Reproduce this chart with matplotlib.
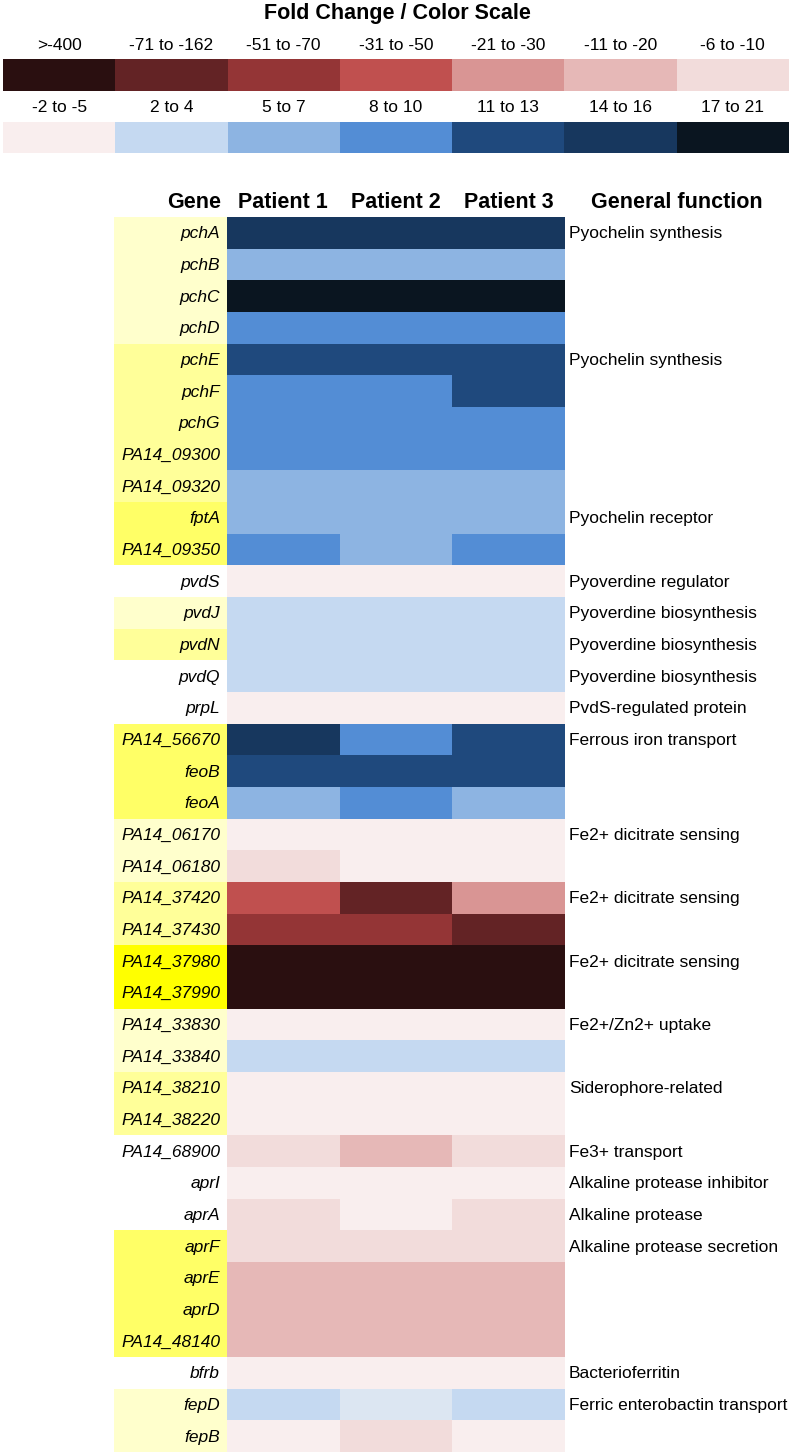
import numpy as np
import matplotlib
matplotlib.use("Agg")
import matplotlib.pyplot as plt
from matplotlib.colors import ListedColormap, BoundaryNorm

plt.rcParams['font.family'] = ['Liberation Sans', 'DejaVu Sans']

# ---------------- data ----------------
scale_labels = [">-400", "-71 to -162", "-51 to -70", "-31 to -50", "-21 to -30",
                "-11 to -20", "-6 to -10", "-2 to -5", "2 to 4", "5 to 7",
                "8 to 10", "11 to 13", "14 to 16", "17 to 21"]
scale_colors = ["#2A0F10", "#632325", "#943536", "#C0504F", "#D99594",
                "#E6B8B7", "#F2DCDB", "#F9EEEE", "#C5D9F1", "#8DB4E2",
                "#538DD5", "#1F497D", "#17375E", "#0A1520"]
extra_color = "#DCE6F2"  # off-scale light blue (fepD, patient 2)

genes = ["pchA", "pchB", "pchC", "pchD", "pchE", "pchF", "pchG", "PA14_09300",
         "PA14_09320", "fptA", "PA14_09350", "pvdS", "pvdJ", "pvdN", "pvdQ", "prpL",
         "PA14_56670", "feoB", "feoA", "PA14_06170", "PA14_06180", "PA14_37420",
         "PA14_37430", "PA14_37980", "PA14_37990", "PA14_33830", "PA14_33840",
         "PA14_38210", "PA14_38220", "PA14_68900", "aprI", "aprA", "aprF", "aprE",
         "aprD", "PA14_48140", "bfrb", "fepD", "fepB"]

# color-scale class index per gene (14 = off-scale light blue)
patient1 = [12, 9, 13, 10, 11, 10, 10, 10, 9, 9, 10, 7, 8, 8, 8, 7,
            12, 11, 9, 7, 6, 3, 2, 0, 0, 7, 8, 7, 7, 6, 7, 6, 6, 5,
            5, 5, 7, 8, 7]
patient2 = [12, 9, 13, 10, 11, 10, 10, 10, 9, 9, 9, 7, 8, 8, 8, 7,
            10, 11, 10, 7, 7, 1, 2, 0, 0, 7, 8, 7, 7, 5, 7, 7, 6, 5,
            5, 5, 7, 14, 6]
patient3 = [12, 9, 13, 10, 11, 11, 10, 10, 9, 9, 10, 7, 8, 8, 8, 7,
            11, 11, 9, 7, 7, 4, 1, 0, 0, 7, 8, 7, 7, 6, 7, 6, 6, 5,
            5, 5, 7, 8, 7]

# gene-label highlight level (0 none .. 4 strongest)
highlight = [1, 1, 1, 1, 2, 2, 2, 2, 2, 3, 3, 0, 1, 2, 0, 0,
             3, 3, 3, 1, 1, 2, 2, 4, 4, 1, 1, 2, 2, 0, 0, 0, 3, 3,
             3, 3, 0, 1, 1]
highlight_colors = ["#FFFFFF", "#FFFFCC", "#FFFF99", "#FFFF66", "#FFFF00"]

functions = {"pchA": "Pyochelin synthesis", "pchE": "Pyochelin synthesis",
             "fptA": "Pyochelin receptor", "pvdS": "Pyoverdine regulator",
             "pvdJ": "Pyoverdine biosynthesis", "pvdN": "Pyoverdine biosynthesis",
             "pvdQ": "Pyoverdine biosynthesis", "prpL": "PvdS-regulated protein",
             "PA14_56670": "Ferrous iron transport",
             "PA14_06170": "Fe2+ dicitrate sensing",
             "PA14_37420": "Fe2+ dicitrate sensing",
             "PA14_37980": "Fe2+ dicitrate sensing",
             "PA14_33830": "Fe2+/Zn2+ uptake", "PA14_38210": "Siderophore-related",
             "PA14_68900": "Fe3+ transport", "aprI": "Alkaline protease inhibitor",
             "aprA": "Alkaline protease", "aprF": "Alkaline protease secretion",
             "bfrb": "Bacterioferritin", "fepD": "Ferric enterobactin transport"}

patients = ["Patient 1", "Patient 2", "Patient 3"]

# ---------------- figure ----------------
W, H = 794, 1456
fig = plt.figure(figsize=(W / 100, H / 100), dpi=100)
ax = fig.add_axes([0, 0, 1, 1])
ax.set_xlim(0, W)
ax.set_ylim(H, 0)
ax.axis("off")

cmap = ListedColormap(scale_colors + [extra_color])
norm = BoundaryNorm(np.arange(-0.5, len(scale_colors) + 1.5, 1), cmap.N)

FS = 12.5
# title
ax.text(W / 2, 13, "Fold Change / Color Scale", ha="center", va="center",
        fontsize=15.5, fontweight="bold")

# color scale rows
nper = 7
lx0, lx1 = 3, 789
lxe = np.linspace(lx0, lx1, nper + 1)
rows_y = [(59, 91, 45), (122, 153, 108)]
for r, (y0, y1, ty) in enumerate(rows_y):
    codes = np.arange(r * nper, (r + 1) * nper)[None, :]
    ax.pcolormesh(lxe, [y0, y1], codes, cmap=cmap, norm=norm,
                  antialiased=False, linewidth=0)
    for k in range(nper):
        ax.text((lxe[k] + lxe[k + 1]) / 2, ty, scale_labels[r * nper + k],
                ha="center", va="center", fontsize=FS)

# heatmap
n = len(genes)
top, bottom = 217, 1452
ye = np.linspace(top, bottom, n + 1)
xe = np.linspace(227, 565, 4)
data = np.array([patient1, patient2, patient3]).T
ax.pcolormesh(xe, ye, data, cmap=cmap, norm=norm, antialiased=False, linewidth=0)

# gene label background
hcmap = ListedColormap(highlight_colors)
hnorm = BoundaryNorm(np.arange(-0.5, len(highlight_colors) + 0.5, 1), hcmap.N)
ax.pcolormesh([114, 227], ye, np.array(highlight)[:, None], cmap=hcmap, norm=hnorm,
              antialiased=False, linewidth=0)

yc = (ye[:-1] + ye[1:]) / 2
for i, g in enumerate(genes):
    ax.text(220, yc[i] + 1, g, ha="right", va="center", fontsize=FS, style="italic")
    if g in functions:
        ax.text(569, yc[i] + 1, functions[g], ha="left", va="center", fontsize=FS)

# headers
hy = 202
ax.text(221, hy, "Gene", ha="right", va="center", fontsize=15.5, fontweight="bold")
for j, p in enumerate(patients):
    ax.text((xe[j] + xe[j + 1]) / 2, hy, p, ha="center", va="center",
            fontsize=15.5, fontweight="bold")
ax.text(677, hy, "General function", ha="center", va="center",
        fontsize=15.5, fontweight="bold")

fig.savefig("out.png", dpi=100)
